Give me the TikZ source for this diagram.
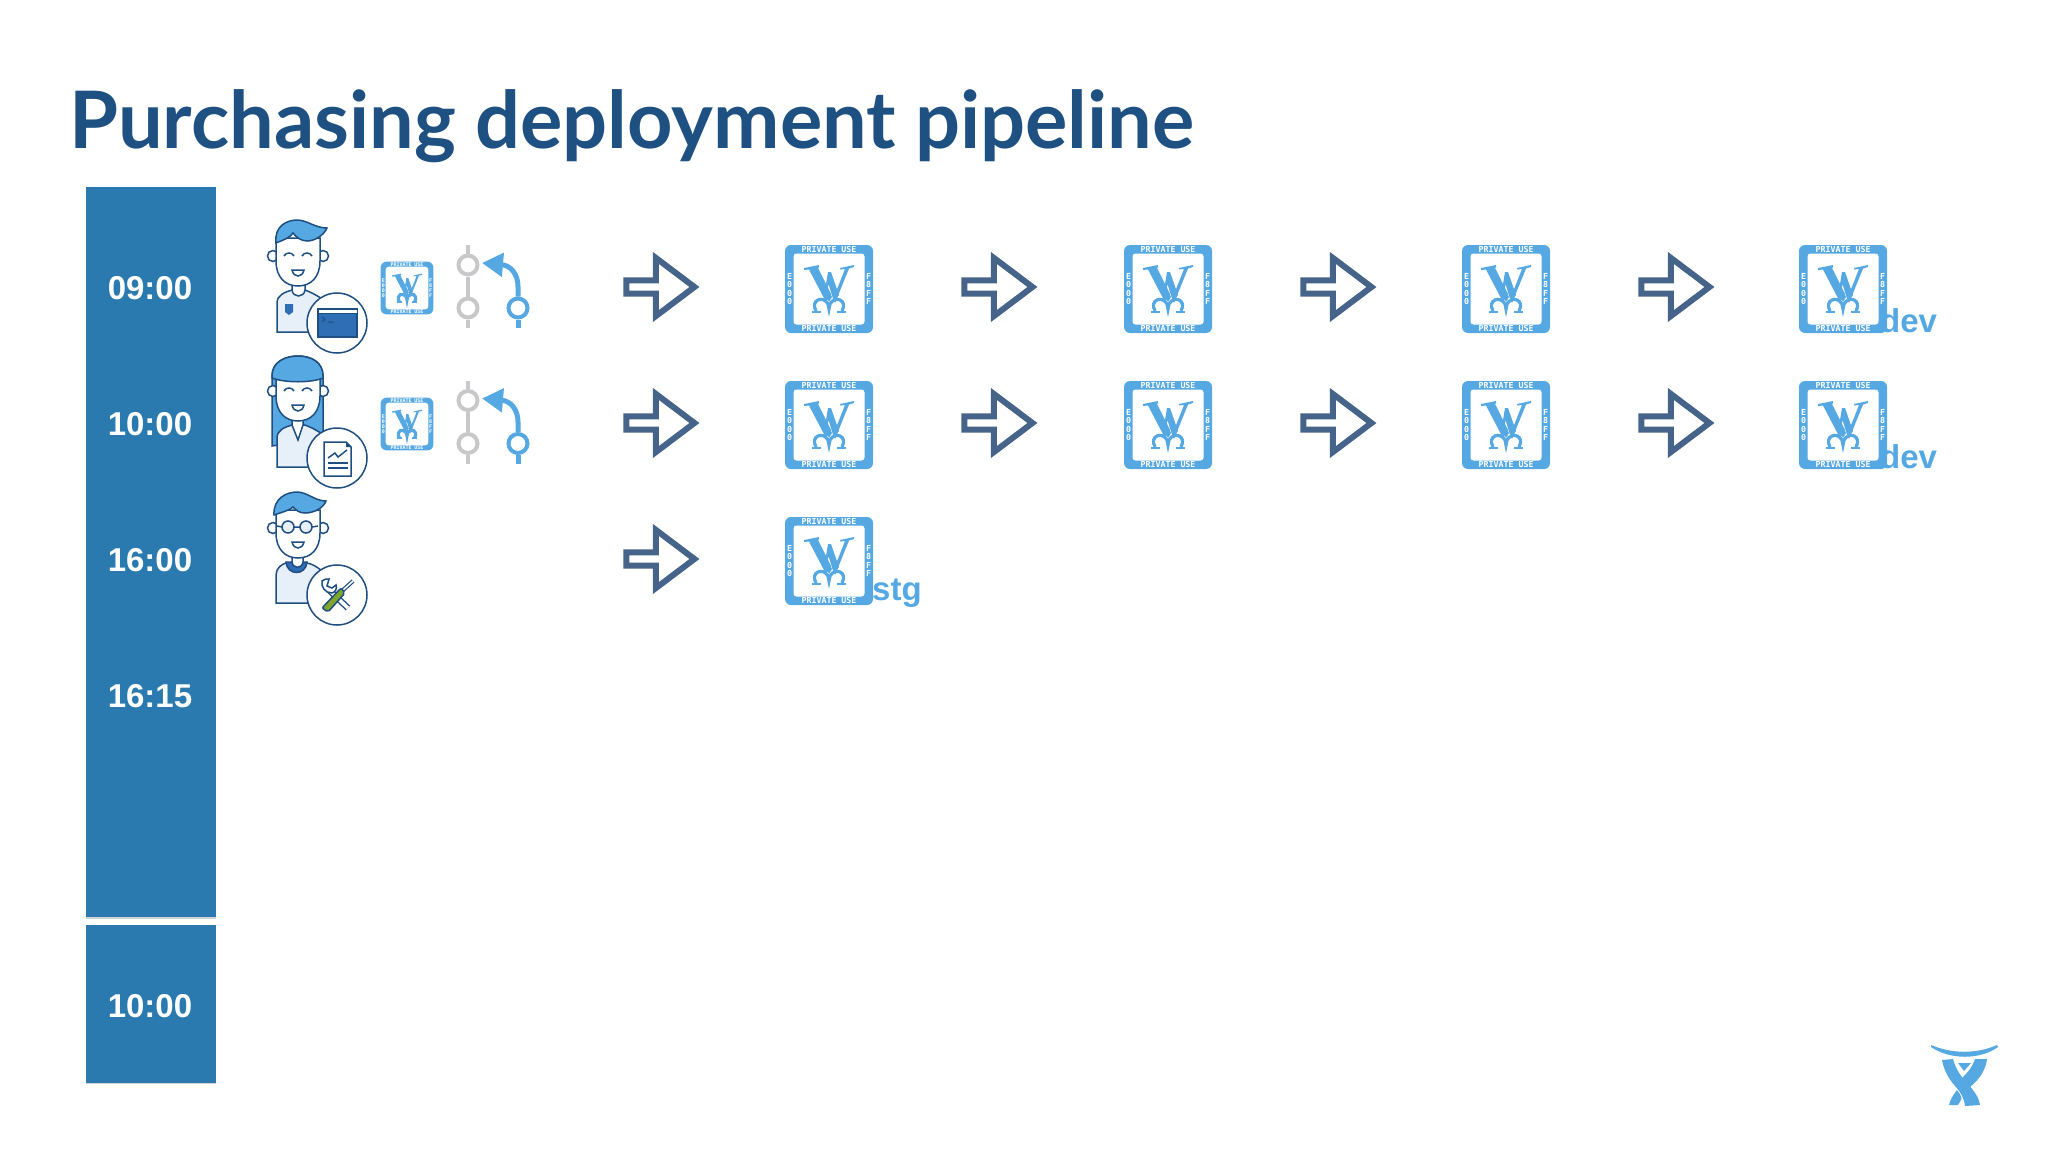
\documentclass[tikz,border=0pt]{standalone}
\usepackage{fontspec}
\setmainfont{Liberation Sans}
\newfontfamily\titlefont{Lato}
\newfontfamily\stampfont{DejaVu Sans Mono}
\usepackage{tikz}
\usetikzlibrary{arrows.meta,positioning,shapes.arrows,shadows}
\definecolor{titleblue}{HTML}{1F5082}
\definecolor{barblue}{HTML}{2A7AB0}
\definecolor{skyblue}{HTML}{55A8E2}
\definecolor{inkblue}{HTML}{1F4E80}
\definecolor{slateblue}{HTML}{46648A}
\definecolor{shirtblue}{HTML}{E7EFF8}
\definecolor{windowblue}{HTML}{2F6DB5}
\definecolor{ringgrey}{HTML}{C8C8CA}
\definecolor{toolgreen}{HTML}{7FA52E}

\begin{document}
\begin{tikzpicture}
	% Styles
	[
	x=1pt,y=-1pt,
	ink/.style={draw=inkblue,line width=1.5},
	timebar/.style={rectangle,fill=barblue,draw=none,inner sep=0pt,drop shadow={shadow xshift=0pt,shadow yshift=-1.5pt,opacity=.35}},
	timelabel/.style={text=white,font=\fontsize{33}{36}\selectfont\bfseries},
	blockarrow/.style={single arrow,draw=slateblue,fill=white,line width=6,inner sep=0pt,minimum height=68,minimum width=58,single arrow head extend=10,single arrow tip angle=74,drop shadow={shadow xshift=1pt,shadow yshift=-1.5pt,opacity=.25}},
	stagename/.style={text=skyblue,inner sep=0pt,anchor=base west,font=\fontsize{33}{35}\selectfont\bfseries},
	stamptext/.style={text=white,inner sep=0pt,transform shape,align=center,font=\fontsize{8.3}{8.6}\stampfont\bfseries},
	greyring/.style={circle,draw=ringgrey,fill=white,line width=4,inner sep=0pt,minimum size=19},
	bluering/.style={circle,draw=skyblue,fill=white,line width=4,inner sep=0pt,minimum size=19},
	stamp/.pic={
		\fill[skyblue,rounded corners=6] (-44,-44) rectangle (44,44);
		\fill[white,rounded corners=3] (-35.5,-35.5) rectangle (35.5,35.5);
		\node (-top) [stamptext] at (0,-39.5) {PRIVATE USE};
		\node (-bot) [stamptext] at (0,39.5) {PRIVATE USE};
		\node (-lft) [stamptext] at (-39.5,0) {E\\0\\0\\0};
		\node (-rgt) [stamptext] at (39.5,0) {F\\8\\F\\F};
		\fill[skyblue] (-25,-21) -- (-10,-24) -- (-10,-22) -- (-11,-21) -- (2,5) -- (-3,13) -- (-20,-19.5) -- (-25,-19) -- cycle;
		\fill[skyblue] (-1,-17) -- (2,-17) -- (10,6) -- (5,13) -- (-0.5,-5) -- (-3,10) -- (-5,7) -- cycle;
		\fill[skyblue] (25,-24) -- (25,-22) -- (20,-20.5) -- (6,14) -- (4.5,9) -- (16,-20) -- (11,-19.5) -- (11,-21) -- cycle;
		\draw[skyblue,line width=3.2] (-13,22) .. controls (-19,11) and (-6,6) .. (-1,15) -- (0,20) -- (1,15) .. controls (6,6) and (19,11) .. (13,22);
		\draw[skyblue,line width=1.8] (-17,23) -- (-8,23) (8,23) -- (17,23);
		\fill[skyblue] (0,2) -- (3,8) -- (0,13) -- (-3,8) -- cycle;
	},
	gitflow/.pic={
		\coordinate (-gtop) at (0,-41.5);
		\coordinate (-gbot) at (0,41.5);
		\coordinate (-btail) at (50,41.5);
		\coordinate (-btip) at (14,-23.5);
		\node (-g1) [greyring] at (0,-21.5) {};
		\node (-g2) [greyring] at (0,21.5) {};
		\node (-b1) [bluering] at (50,21.5) {};
		\draw[ringgrey,line width=4] (-gtop) -- (-g1) -- (-g2) -- (-gbot);
		\draw[skyblue,line width=5] (-b1) -- (-btail);
		\draw[skyblue,line width=5,-{Triangle[length=21,width=23]}] (-b1) -- (50,0) .. controls (50,-12) and (43,-21) .. (-btip);
	},
	earpair/.pic={
		\draw[ink,fill=white] (-64,-67) circle (5.5) (-14,-67) circle (5.5);
	},
	facesmile/.pic={
		\draw[ink,fill=white] (-61,-85) -- (-61,-62) .. controls (-61,-46) and (-52,-37) .. (-39,-37) .. controls (-26,-37) and (-17,-46) .. (-17,-62) -- (-17,-85) -- cycle;
		\draw[ink,fill=white] (-45,-53) -- (-33,-53) .. controls (-34,-49) and (-36,-47) .. (-39,-47) .. controls (-42,-47) and (-44,-49) .. (-45,-53) -- cycle;
	},
	eyesup/.pic={
		\draw[ink] (-53,-67) .. controls (-51,-71) and (-45,-71) .. (-43,-67);
		\draw[ink] (-35,-67) .. controls (-33,-71) and (-27,-71) .. (-25,-67);
	},
	badgedisc/.pic={
		\draw[ink,fill=white] (0,0) circle (30);
	},
	devperson/.pic={
		\pic at (0,0) {earpair};
		\draw[ink,fill=shirtblue] (-60,9) -- (-60,-20) .. controls (-60,-28) and (-52,-31) .. (-45,-33) -- (-32,-33) .. controls (-27,-31) and (-22,-29) .. (-15,-24) -- (-15,9) -- cycle;
		\draw[ink,fill=white] (-45,-40) -- (-45,-33) .. controls (-44,-25) and (-33,-25) .. (-32,-33) -- (-32,-40) -- cycle;
		\pic at (0,0) {facesmile};
		\draw[ink,fill=skyblue] (-61,-80) .. controls (-63,-97) and (-50,-103) .. (-40,-103) .. controls (-30,-103) and (-22,-95) .. (-10,-95) .. controls (-13,-88) and (-22,-82) .. (-30,-82) .. controls (-36,-82) and (-41,-86) .. (-44,-90) .. controls (-47,-85) and (-54,-83) .. (-61,-80) -- cycle;
		\pic at (0,0) {eyesup};
		\fill[windowblue] (-52,-19) -- (-44,-19) -- (-44,-11) -- (-48,-8) -- (-52,-11) -- cycle;
		\pic at (0,0) {badgedisc};
		\draw[ink,fill=windowblue] (-19,-14) rectangle (20,14);
		\draw[ink,fill=white,line width=1] (-19,-14) rectangle (20,-10);
		\draw[inkblue,line width=1] (-15,-6) -- (-12,-3.5) -- (-15,-1) (-9,-1) -- (-3,-1);
	},
	analystperson/.pic={
		\draw[ink,fill=skyblue] (-65,-12) -- (-65,-82) .. controls (-65,-96) and (-52,-102) .. (-39,-102) .. controls (-26,-102) and (-14,-96) .. (-14,-82) -- (-14,-20) -- cycle;
		\pic at (0,0) {earpair};
		\draw[ink,fill=shirtblue] (-60,9) -- (-60,-20) .. controls (-60,-28) and (-52,-31) .. (-45,-33) -- (-32,-33) .. controls (-27,-31) and (-22,-29) .. (-15,-24) -- (-15,9) -- cycle;
		\draw[ink,fill=white] (-45,-40) -- (-45,-33) -- (-39,-18) -- (-34,-33) -- (-34,-40) -- cycle;
		\pic at (0,0) {facesmile};
		\draw[ink,fill=skyblue] (-65,-80) -- (-65,-82) .. controls (-65,-96) and (-52,-102) .. (-39,-102) .. controls (-26,-102) and (-14,-96) .. (-14,-82) -- (-14,-80) .. controls (-26,-75) and (-52,-75) .. (-65,-80) -- cycle;
		\pic at (0,0) {eyesup};
		\pic at (0,0) {badgedisc};
		\draw[ink,fill=white] (-13,-16) -- (9,-16) -- (14,-11) -- (14,18) -- (-13,18) -- cycle;
		\fill[inkblue] (9,-16) -- (14,-11) -- (9,-11) -- cycle;
		\draw[ink] (-9,0) -- (-2,-5) -- (1,-1) -- (10,-8);
		\draw[ink] (-9,5) -- (11,5) (-9,10) -- (11,10);
	},
	opsperson/.pic={
		\pic at (0,0) {earpair};
		\draw[ink,fill=shirtblue] (-61,8) -- (-61,-20) .. controls (-61,-27) and (-55,-31) .. (-51,-32) -- (-30,-32) .. controls (-25,-31) and (-21,-29) .. (-15,-24) -- (-15,8) -- cycle;
		\draw[ink,fill=windowblue] (-51,-33) .. controls (-50,-19) and (-31,-19) .. (-30,-33) -- cycle;
		\draw[ink,fill=white] (-45,-40) -- (-45,-33) .. controls (-44,-26) and (-35,-26) .. (-34,-33) -- (-34,-40) -- cycle;
		\pic at (0,0) {facesmile};
		\draw[ink,fill=skyblue] (-63,-80) .. controls (-64,-97) and (-50,-103) .. (-40,-103) .. controls (-30,-103) and (-22,-94) .. (-11,-94) .. controls (-13,-88) and (-22,-82) .. (-32,-82) .. controls (-38,-82) and (-41,-85) .. (-44,-88) .. controls (-47,-85) and (-54,-83) .. (-63,-80) -- cycle;
		\draw[ink,fill=shirtblue] (-49,-68) circle (6) (-31,-68) circle (6);
		\draw[ink] (-43,-68) -- (-37,-68) (-55,-68) -- (-60,-69) (-25,-68) -- (-19,-69);
		\pic at (0,0) {badgedisc};
		\draw[inkblue,line width=6.4] (-8,-5) -- (11,13);
		\draw[white,line width=3.6] (-8,-5) -- (11,13);
		\draw[ink,fill=white] (-15,-14) .. controls (-16,-8) and (-12,-2) .. (-5,-2) .. controls (-1,-3) and (0,-7) .. (-1,-10) -- (-5,-7) -- (-10,-9) -- (-8,-16) .. controls (-11,-16) and (-13,-16) .. (-15,-14) -- cycle;
		\draw[inkblue,line width=4] (5,-4) -- (16,-14);
		\draw[white,line width=1.6] (5,-4) -- (16,-14);
		\draw[ink,fill=toolgreen,rounded corners=2] (-15,13) -- (4,-7) -- (8,-2) -- (-9,17) -- cycle;
	},
	]

	\useasboundingbox (0,0) rectangle (2048,1152);

	% Title
	\node at (69,148) (title) [anchor=base west,inner sep=0pt,text=titleblue,font=\fontsize{79.3}{90}\titlefont\bfseries] {Purchasing deployment pipeline};

	% Time bars
	\node at (150.5,552) (bar1) [timebar,minimum width=130,minimum height=730] {};
	\node at (150.5,1003.5) (bar2) [timebar,minimum width=130,minimum height=158] {};
	\node at (150,288)	(t1)	[timelabel] {09:00};
	\node at (150,424)	(t2)	[timelabel] {10:00};
	\node at (150,560)	(t3)	[timelabel] {16:00};
	\node at (150,696)	(t4)	[timelabel] {16:15};
	\node at (150,1006)	(t5)	[timelabel] {10:00};

	% People
	\pic (dev) at (337,323) {devperson};
	\pic (analyst) at (337,458) {analystperson};
	\pic (ops) at (337,595) {opsperson};

	% Small stamps and branches
	\pic (sm1) [scale=.6] at (407,288) {stamp};
	\pic (sm2) [scale=.6] at (407,424) {stamp};
	\pic (git1) at (468,286.5) {gitflow};
	\pic (git2) at (468,422) {gitflow};

	% Arrows
	\node at (656,287)	(a11)	[blockarrow] {};
	\node at (994,287)	(a12)	[blockarrow] {};
	\node at (1333,287)	(a13)	[blockarrow] {};
	\node at (1671,287)	(a14)	[blockarrow] {};
	\node at (656,423)	(a21)	[blockarrow] {};
	\node at (994,423)	(a22)	[blockarrow] {};
	\node at (1333,423)	(a23)	[blockarrow] {};
	\node at (1671,423)	(a24)	[blockarrow] {};
	\node at (656,559)	(a31)	[blockarrow] {};

	% Stamps
	\pic (s11) at (829,289) {stamp};
	\pic (s12) at (1168,289) {stamp};
	\pic (s13) at (1506,289) {stamp};
	\pic (s14) at (1843,289) {stamp};
	\pic (s21) at (829,425) {stamp};
	\pic (s22) at (1168,425) {stamp};
	\pic (s23) at (1506,425) {stamp};
	\pic (s24) at (1843,425) {stamp};
	\pic (s31) at (829,561) {stamp};

	% Stage names
	\node at (1880,332)	(env1)	[stagename] {dev};
	\node at (1880,468)	(env2)	[stagename] {dev};
	\node at (872,600)	(env3)	[stagename] {stg};

	% Logo
	\fill[skyblue] (1931,1045) .. controls (1952,1054) and (1977,1054) .. (1997,1045) -- (1998,1047) .. controls (1980,1060) and (1950,1060) .. (1931,1047) -- cycle;
	\fill[skyblue] (1942,1060) -- (1953,1059) .. controls (1956,1070) and (1962,1078) .. (1968,1084) .. controls (1975,1092) and (1979,1098) .. (1980,1105) -- (1965,1106) .. controls (1964,1098) and (1960,1091) .. (1955,1086) .. controls (1949,1079) and (1944,1071) .. (1942,1060) -- cycle;
	\fill[skyblue] (1975,1059) -- (1987,1059) .. controls (1986,1068) and (1981,1078) .. (1970,1087) -- (1962,1078) .. controls (1968,1072) and (1973,1066) .. (1975,1059) -- cycle;
	\fill[skyblue] (1949,1105) .. controls (1950,1100) and (1953,1095) .. (1957,1090) .. controls (1961,1095) and (1962,1098) .. (1961,1100) -- (1958,1105) -- cycle;
	\fill[skyblue] (1958,1063) -- (1971,1063) -- (1964,1071) -- cycle;

\end{tikzpicture}
\end{document}
